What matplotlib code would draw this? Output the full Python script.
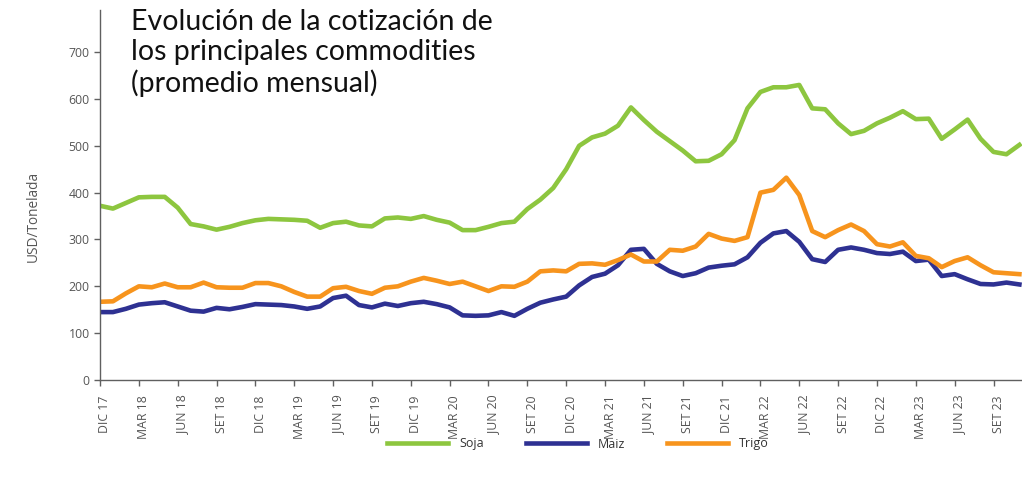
import numpy as np
import matplotlib.pyplot as plt
from matplotlib.transforms import ScaledTranslation

# cotizacion promedio mensual, USD/tonelada, desde DIC 17 hasta NOV 23
meses = np.arange(72)

soja = [372, 366, 378, 390, 391, 391, 368, 333, 328, 321, 327, 335,
        341, 344, 343, 342, 340, 325, 335, 338, 330, 328, 345, 347,
        344, 350, 342, 336, 320, 320, 327, 335, 338, 365, 385, 410,
        450, 500, 518, 526, 543, 582, 555, 530, 510, 490, 467, 468,
        482, 512, 580, 615, 625, 625, 630, 580, 578, 548, 525, 532,
        548, 560, 574, 557, 558, 515, 535, 556, 515, 487, 482, 502]

maiz = [145, 145, 152, 161, 164, 166, 157, 148, 146, 154, 151, 156,
        162, 161, 160, 157, 152, 157, 175, 180, 160, 155, 163, 158,
        164, 167, 162, 155, 138, 137, 138, 145, 137, 152, 165, 172,
        178, 202, 220, 227, 245, 278, 280, 248, 232, 222, 228, 240,
        244, 247, 262, 293, 313, 318, 295, 258, 252, 278, 283, 278,
        271, 269, 274, 254, 257, 222, 226, 215, 205, 204, 208, 204]

trigo = [167, 168, 185, 200, 198, 206, 198, 198, 208, 198, 197, 197,
         207, 207, 200, 188, 178, 178, 196, 199, 190, 184, 197, 200,
         210, 218, 212, 205, 210, 200, 190, 200, 199, 210, 232, 234,
         232, 248, 249, 246, 256, 268, 253, 253, 278, 276, 285, 312,
         302, 297, 305, 400, 406, 432, 395, 318, 305, 320, 332, 318,
         290, 285, 294, 265, 260, 241, 254, 262, 245, 230, 228, 226]

etiquetas = ["DIC 17", "MAR 18", "JUN 18", "SET 18", "DIC 18", "MAR 19",
             "JUN 19", "SET 19", "DIC 19", "MAR 20", "JUN 20", "SET 20",
             "DIC 20", "MAR 21", "JUN 21", "SET 21", "DIC 21", "MAR 22",
             "JUN 22", "SET 22", "DIC 22", "MAR 23", "JUN 23", "SET 23"]

plt.rcParams['font.family'] = ['Open Sans', 'DejaVu Sans']

fig = plt.figure(figsize=(10.22, 4.79), dpi=100)
ax = fig.add_axes([100/1022, 1 - 380/479, 1 - 100/1022, 370/479])

ax.plot(meses, soja, color="#8DC63F", lw=3.3, label="Soja")
ax.plot(meses, maiz, color="#2E3192", lw=3.3, label="Maiz")
ax.plot(meses, trigo, color="#F7941D", lw=3.3, label="Trigo")

ax.set_xlim(0, 71.2)
ax.set_ylim(0, 790)
ax.set_yticks(range(0, 800, 100))
ax.set_xticks(np.arange(0, 72, 3))
ax.set_xticklabels(etiquetas, rotation=90)

for lado in ["top", "right"]:
    ax.spines[lado].set_visible(False)
for lado in ["left", "bottom"]:
    ax.spines[lado].set_color("#606060")
    ax.spines[lado].set_linewidth(1.0)
ax.tick_params(colors="#606060", labelcolor="#555555", labelsize=8.8, length=4, width=1)
ax.tick_params(axis="x", pad=7)

# las etiquetas del eje x quedan un poco corridas a la derecha de la marca
desplazar = ScaledTranslation(5/100, 0, fig.dpi_scale_trans)
for lbl in ax.get_xticklabels():
    lbl.set_transform(lbl.get_transform() + desplazar)

fig.text(33/1022, 1 - 216/479, "USD/Tonelada", rotation=90, ha="center", va="center",
         fontsize=9.8, color="#555555")

fig.text(131/1022, 1 - 9/479, "Evolución de la cotización de\nlos principales commodities\n(promedio mensual)",
         ha="left", va="top", fontsize=20.5, color="#111111", linespacing=1.2,
         family=["Lato", "DejaVu Sans"])

fig.legend(loc="center", ncol=3, bbox_to_anchor=(578/1022, 1 - 444/479), frameon=False,
           fontsize=9, handlelength=4.9, columnspacing=3.3, handletextpad=0.9, labelcolor="#333333")

fig.savefig("out.png", dpi=100)
